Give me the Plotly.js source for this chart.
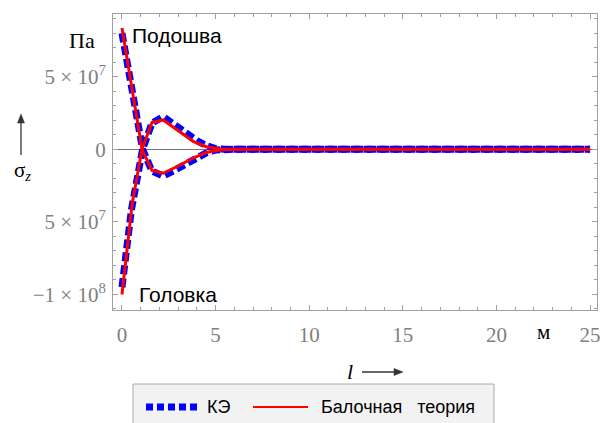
<!DOCTYPE html>
<html><head><meta charset="utf-8">
<script src="https://cdn.plot.ly/plotly-3.0.1.min.js"></script>
<style>html,body{margin:0;padding:0;background:#fff}</style>
</head><body><div id="chart" style="width:602px;height:423px"></div>
<script>
// FE (КЭ) results
const feX    = [0, 0.5, 1.0, 1.1, 1.6, 2.2, 2.8, 3.4, 4.0, 4.5, 5.0, 5.5, 6, 7, 8, 9, 10, 11, 12, 13, 14, 15, 16, 17, 18, 19, 20, 21, 22, 23, 24, 25];
const feSole = [8.0e7, 4.5e7, 0.8e7, 0, -1.5e7, -1.84e7, -1.45e7, -1.0e7, -0.55e7, -0.25e7, -0.05e7, 0, 0, 0, 0, 0, 0, 0, 0, 0, 0, 0, 0, 0, 0, 0, 0, 0, 0, 0, 0, 0];
const feHead = [-9.5e7, -4.2e7, -0.7e7, 0, 1.8e7, 2.25e7, 1.7e7, 1.1e7, 0.6e7, 0.25e7, 0.05e7, 0, 0, 0, 0, 0, 0, 0, 0, 0, 0, 0, 0, 0, 0, 0, 0, 0, 0, 0, 0, 0];
// Beam theory (Балочная теория)
const beamX    = [0, 0.55, 1.07, 1.6, 2.2, 3.0, 3.8, 4.5, 5.2, 6, 7, 8, 9, 10, 11, 12, 13, 14, 15, 16, 17, 18, 19, 20, 21, 22, 23, 24, 25];
const beamSole = [8.35e7, 4.2e7, 0, -1.45e7, -1.65e7, -1.15e7, -0.6e7, -0.22e7, -0.05e7, 0, 0, 0, 0, 0, 0, 0, 0, 0, 0, 0, 0, 0, 0, 0, 0, 0, 0, 0, 0];
const beamHead = [-1.0e8, -3.7e7, 0, 1.85e7, 2.02e7, 1.3e7, 0.55e7, 0.18e7, 0.02e7, 0, 0, 0, 0, 0, 0, 0, 0, 0, 0, 0, 0, 0, 0, 0, 0, 0, 0, 0, 0];

const xTickVals = [0, 5, 10, 15, 20, 25];
const yTickVals = [-1e8, -5e7, 0, 5e7];
const yTickText = ['\u22121 \u00d7 10<sup>8</sup>', '5 \u00d7 10<sup>7</sup>', '0', '5 \u00d7 10<sup>7</sup>'];
const legendNames = ['КЭ', 'Балочная\u00a0\u00a0 теория'];

const blue = '#0000ff', red = '#ff0000';
const feLine = {color: blue, width: 7, dash: '9px,4px'};
const beamLine = {color: red, width: 3};

const traces = [
  {x: feX, y: feSole, mode: 'lines', line: feLine, name: legendNames[0], showlegend: false},
  {x: feX, y: feHead, mode: 'lines', line: feLine, name: legendNames[0], showlegend: false},
  {x: beamX, y: beamSole, mode: 'lines', line: beamLine, name: legendNames[1], showlegend: false},
  {x: beamX, y: beamHead, mode: 'lines', line: beamLine, name: legendNames[1], showlegend: false}
];

const L = 113, T = 14, W = 484, H = 296;
const px = v => (v - L) / W;
const py = v => (T + H - v) / H;
const pt = (x, y) => px(x) + ',' + py(y);

const frame = '#a0a0a0';
const tickFont = {family: 'Liberation Serif', size: 21, color: '#808080'};
const arrowCol = '#333333';

const layout = {
  width: 602, height: 423,
  margin: {l: L, r: 602 - L - W, t: T, b: 423 - T - H},
  paper_bgcolor: '#fff', plot_bgcolor: '#fff',
  showlegend: false,
  xaxis: {
    range: [-0.48, 25.37], showgrid: false, zeroline: false,
    showline: true, linecolor: frame, linewidth: 1, mirror: 'ticks',
    ticks: 'inside', ticklen: 5, tickcolor: frame, tickmode: 'array', tickvals: xTickVals,
    tickfont: tickFont, ticklabelstandoff: 6,
    minor: {dtick: 1, tick0: 0, ticks: 'inside', ticklen: 3, tickcolor: frame, showgrid: false}
  },
  yaxis: {
    range: [-1.107e8, 9.32e7], showgrid: false,
    zeroline: true, zerolinecolor: '#777', zerolinewidth: 1,
    showline: true, linecolor: frame, linewidth: 1, mirror: 'ticks',
    ticks: 'inside', ticklen: 5, tickcolor: frame, tickmode: 'array', tickvals: yTickVals, ticktext: yTickText,
    tickfont: tickFont, ticklabelstandoff: 2,
    minor: {dtick: 1e7, tick0: 0, ticks: 'inside', ticklen: 3, tickcolor: frame, showgrid: false}
  },
  shapes: [
    {type: 'rect', xref: 'paper', yref: 'paper', x0: px(133), x1: px(494), y0: py(384), y1: py(432),
     fillcolor: '#f2f2f2', line: {color: '#aaaaaa', width: 1}, layer: 'above'},
    {type: 'line', xref: 'paper', yref: 'paper', x0: px(146), x1: px(200), y0: py(407), y1: py(407),
     line: {color: blue, width: 7, dash: '7px,4px'}},
    {type: 'line', xref: 'paper', yref: 'paper', x0: px(253), x1: px(308), y0: py(407), y1: py(407),
     line: {color: red, width: 2}},
    // vertical arrow next to σz
    {type: 'line', xref: 'paper', yref: 'paper', x0: px(21), x1: px(21), y0: py(155), y1: py(120),
     line: {color: arrowCol, width: 1.3}},
    {type: 'path', xref: 'paper', yref: 'paper', path: 'M' + pt(21, 114) + 'L' + pt(17.5, 123) + 'L' + pt(24.5, 123) + 'Z',
     fillcolor: arrowCol, line: {color: arrowCol, width: 0.5}},
    // horizontal arrow after l
    {type: 'line', xref: 'paper', yref: 'paper', x0: px(362), x1: px(397), y0: py(372), y1: py(372),
     line: {color: arrowCol, width: 1.3}},
    {type: 'path', xref: 'paper', yref: 'paper', path: 'M' + pt(403, 372) + 'L' + pt(394, 368.5) + 'L' + pt(394, 375.5) + 'Z',
     fillcolor: arrowCol, line: {color: arrowCol, width: 0.5}}
  ],
  annotations: [
    {xref: 'x', yref: 'y', x: 0.43, y: 7.87e7, text: 'Подошва', showarrow: false, xanchor: 'left', yanchor: 'middle',
     font: {family: 'Liberation Sans', size: 21, color: '#000'}},
    {xref: 'x', yref: 'y', x: 0.8, y: -1.003e8, text: 'Головка', showarrow: false, xanchor: 'left', yanchor: 'middle',
     font: {family: 'Liberation Sans', size: 21, color: '#000'}},
    {xref: 'paper', yref: 'paper', x: px(82), y: py(40), text: 'Па', showarrow: false, xanchor: 'center', yanchor: 'middle',
     font: {family: 'Liberation Serif', size: 22, color: '#000'}},
    {xref: 'paper', yref: 'paper', x: px(22), y: py(171), text: 'σ<sub><i>z</i></sub>', showarrow: false, xanchor: 'center', yanchor: 'middle',
     font: {family: 'Liberation Serif', size: 21, color: '#000'}},
    {xref: 'paper', yref: 'paper', x: px(543), y: py(332), text: 'м', showarrow: false, xanchor: 'center', yanchor: 'middle',
     font: {family: 'Liberation Serif', size: 21, color: '#000'}},
    {xref: 'paper', yref: 'paper', x: px(350), y: py(371), text: '<i>l</i>', showarrow: false, xanchor: 'center', yanchor: 'middle',
     font: {family: 'Liberation Serif', size: 22, color: '#000'}},
    {xref: 'paper', yref: 'paper', x: px(205), y: py(407), text: legendNames[0], showarrow: false, xanchor: 'left', yanchor: 'middle',
     font: {family: 'Liberation Sans', size: 18, color: '#000'}},
    {xref: 'paper', yref: 'paper', x: px(319), y: py(407), text: legendNames[1], showarrow: false, xanchor: 'left', yanchor: 'middle',
     font: {family: 'Liberation Sans', size: 18, color: '#000'}}
  ]
};

Plotly.newPlot('chart', traces, layout, {displayModeBar: false, staticPlot: true});
</script>
</body></html>
